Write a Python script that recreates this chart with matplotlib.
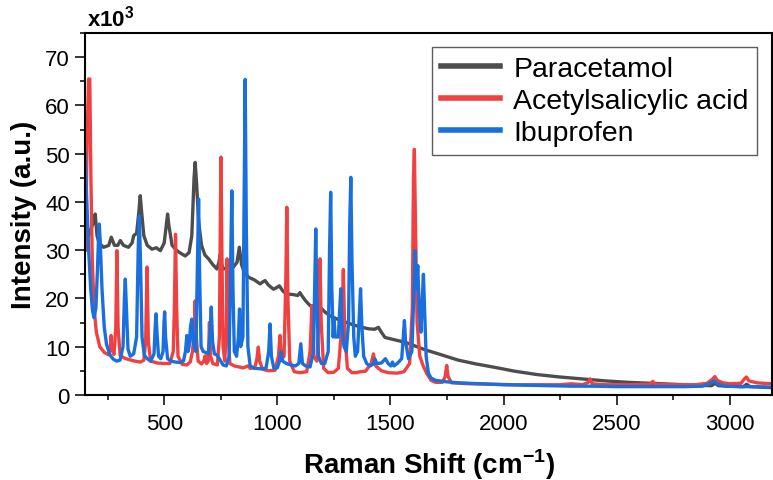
import matplotlib
matplotlib.use("Agg")
import matplotlib.pyplot as plt
from matplotlib.ticker import MultipleLocator

plt.rcParams['font.family'] = ['Liberation Sans', 'DejaVu Sans']
plt.rcParams['mathtext.fontset'] = 'custom'
plt.rcParams['mathtext.rm'] = 'Liberation Sans'
plt.rcParams['mathtext.bf'] = 'Liberation Sans:bold'

# Raman spectra, intensity in thousands of counts
para_x = [150, 165, 185, 195, 203, 212, 232, 255, 266, 280, 295, 306, 320, 342, 358, 365, 378, 388,
          394, 400, 410, 425, 446, 465, 483, 500, 510, 515, 521, 535, 556, 575, 593, 610, 622, 632,
          637, 643, 652, 665, 680, 696, 715, 733, 742, 748, 754, 762, 780, 806, 822, 832, 842, 855,
          873, 900, 924, 935, 946, 960, 983, 995, 1009, 1025, 1042, 1070, 1090, 1100, 1108, 1125,
          1145, 1170, 1189, 1210, 1233, 1260, 1285, 1307, 1330, 1351, 1375, 1403, 1430, 1447, 1460,
          1476, 1520, 1565, 1600, 1650, 1712, 1800, 1880, 1962, 2050, 2150, 2250, 2350, 2450, 2550,
          2650, 2750, 2850, 2920, 2935, 2950, 3000, 3060, 3075, 3090, 3185]
para_y = [31, 33, 35.5, 37.5, 33, 31.5, 30.6, 31, 32.7, 31, 31, 32, 31, 30.6, 31.5, 33, 33.5, 38,
          41.3, 38, 33, 31, 30.2, 30.5, 29.9, 31.5, 35.5, 37.5, 35, 31, 29.9, 29.3, 28.8, 29.5, 33, 45,
          48.2, 44, 36, 31, 29, 28.2, 27, 26.1, 27.5, 29.2, 27, 26.1, 26.3, 26.5, 27.5, 30.6, 27, 25.3,
          24.4, 23.8, 23.0, 23.4, 23.7, 22.8, 21.9, 22.2, 22.6, 21.5, 20.9, 20.8, 20.6, 21.2, 20.6, 19.5,
          18.5, 18.4, 18.2, 17.2, 16.4, 15.8, 15.4, 15.0, 14.6, 14.3, 14.0, 13.7, 13.6, 14.0, 13.0,
          11.9, 11.4, 10.9, 10.3, 9.4, 8.5, 7.2, 6.4, 5.7, 4.9, 4.2, 3.7, 3.3, 2.9, 2.6,
          2.4, 2.2, 2.0, 1.9, 2.4, 1.9, 1.8, 1.7, 2.2, 1.7, 1.5]

asa_x = [152, 160, 166, 171, 176, 182, 190, 200, 215, 235, 255, 262, 265, 268, 278, 286, 291, 296,
         305, 325, 345, 370, 395, 410, 418, 424, 430, 440, 470, 500, 525, 540, 545, 550, 555, 561,
         580, 600, 615, 625, 632, 637, 642, 650, 665, 675, 681, 687, 695, 700, 705, 715, 735, 744,
         748, 751, 755, 760, 768, 775, 778, 782, 790, 810, 830, 850, 870, 880, 900, 910, 916, 922,
         935, 960, 990, 1005, 1012, 1018, 1030, 1038, 1042, 1047, 1055, 1075, 1100, 1130, 1145,
         1153, 1160, 1175, 1185, 1189, 1194, 1205, 1225, 1250, 1270, 1285, 1292, 1298, 1310, 1330,
         1350, 1366, 1390, 1415, 1425, 1435, 1460, 1490, 1530, 1560, 1585, 1597, 1602, 1606, 1611,
         1618, 1630, 1645, 1660, 1680, 1700, 1730, 1742, 1749, 1755, 1770, 1850, 1950, 2050, 2150,
         2250, 2300, 2350, 2375, 2383, 2392, 2450, 2550, 2650, 2660, 2670, 2750, 2850, 2900, 2925,
         2934, 2945, 2970, 3000, 3050, 3065, 3074, 3085, 3120, 3150, 3185]
asa_y = [30, 55, 65.5, 65.5, 45, 28, 18, 13, 10, 8.8, 8.3, 10, 12.3, 9.5, 8.4, 14, 29.9, 14,
         8.2, 7.6, 7.3, 7.0, 6.8, 7.2, 11, 26.5, 11, 7.0, 6.6, 6.5, 6.5, 9, 18, 33.3, 18, 8,
         6.3, 6.2, 6.8, 9, 13, 19.5, 12, 7, 6.4, 7, 8.1, 6.5, 7, 15, 8, 6.5, 6.2, 12,
         35, 49.3, 30, 10, 7, 15, 28.2, 14, 6.5, 6, 5.8, 5.6, 6.0, 5.5, 5.6, 7.5, 9.9, 7,
         5.3, 5.0, 5.1, 8, 12.3, 7.5, 8, 25, 38.9, 20, 7, 4.8, 4.6, 4.8, 9,
         18.5, 8, 7, 17, 28.2, 15, 5.5, 4.6, 4.7, 5.5, 14, 26, 13, 5.5, 4.6,
         4.6, 4.8, 4.9, 6.5, 8.5, 6.0, 5.0, 4.6, 4.5, 4.8, 6.5, 18, 45, 50.9, 35,
         15, 8, 6, 4.5, 3, 2.6, 2.6, 3.8, 6.1, 3.8, 2.5, 2.3, 2.2, 2.1, 2.1,
         2.1, 2.3, 2.1, 2.6, 3.3, 2.3, 2.1, 2.1, 2.2, 2.8, 2.2, 2.1, 2.1, 2.4, 3.3,
         3.8, 3.0, 2.5, 2.3, 2.4, 3.3, 3.7, 2.9, 2.5, 2.4, 2.3]

ibu_x = [150, 158, 166, 175, 183, 190, 198, 205, 210, 213, 217, 225, 235, 245, 260, 275, 290, 305,
         318, 324, 328, 333, 340, 350, 365, 378, 385, 390, 395, 402, 412, 425, 440, 455, 460, 464,
         468, 475, 485, 495, 499, 502, 506, 515, 530, 550, 570, 585, 594, 600, 605, 610, 616, 622,
         628, 640, 646, 652, 657, 663, 672, 683, 695, 702, 708, 714, 722, 735, 750, 760, 775, 787,
         793, 799, 804, 810, 820, 828, 833, 838, 848, 853, 858, 863, 870, 880, 900, 930, 950, 962,
         968, 974, 985, 1000, 1010, 1017, 1024, 1040, 1060, 1080, 1095, 1104, 1111, 1125, 1145,
         1160, 1166, 1170, 1175, 1182, 1195, 1210, 1225, 1231, 1236, 1241, 1247, 1251, 1256, 1270,
         1276, 1281, 1286, 1295, 1305, 1315, 1320, 1325, 1330, 1338, 1345, 1355, 1362, 1368, 1374,
         1382, 1395, 1410, 1425, 1432, 1440, 1460, 1478, 1490, 1502, 1509, 1516, 1530, 1550, 1557,
         1562, 1567, 1580, 1595, 1603, 1609, 1615, 1621, 1628, 1635, 1641, 1646, 1651, 1658, 1668,
         1680, 1700, 1750, 1800, 1900, 2000, 2100, 2200, 2300, 2400, 2500, 2600, 2700, 2800, 2880,
         2910, 2930, 2950, 2980, 3050, 3120, 3185]
ibu_y = [50, 40, 30, 22, 17.5, 16, 18, 26, 33, 35.4, 32, 22, 14, 10.5, 8.3, 7.4, 7.0, 7.2,
         10, 20, 24, 18, 9.5, 8, 8.5, 12, 30, 37.1, 28, 12, 8.2, 7.5, 7, 8.5, 14, 16.8,
         13, 8, 7.5, 9, 15, 17.2, 12, 7.5, 7, 6.8, 6.7, 7, 9, 12.3, 9, 10, 14, 15.7,
         11, 9, 25, 40.6, 24, 10, 9, 8.8, 8.5, 12, 18.2, 11, 8.5, 8.2, 7, 6.2, 6.0, 8,
         25, 42.3, 22, 9, 8, 12, 17.8, 10, 12, 40, 65.4, 35, 10, 6, 5.5, 5.4, 5.5, 9,
         14.7, 8, 5.5, 5.6, 7, 8.9, 7, 6.5, 6.2, 6.0, 6.5, 10.6, 6.5, 6.0, 5.8,
         9, 25, 34.4, 20, 8, 6.5, 6.5, 9, 30, 42, 22, 12, 15.7, 12, 12,
         18, 22, 14, 10, 9, 15, 35, 45.1, 28, 12, 8, 9, 16, 22, 14,
         8, 6.5, 6, 6.4, 7.4, 6.5, 6.6, 7.5, 6.5, 6, 6.8, 6, 6.5, 7.5, 12,
         15.4, 11, 7.5, 9, 20, 29.9, 22, 26.8, 17, 13, 20, 25, 18, 8, 4.5,
         3.5, 3.0, 2.7, 2.5, 2.3, 2.1, 2.0, 1.9, 1.8, 1.8, 1.7, 1.7, 1.7, 1.7, 1.8,
         2.3, 2.9, 2.2, 1.8, 1.7, 1.7, 1.6]

fig = plt.figure(figsize=(7.73, 4.81), dpi=100)
ax = fig.add_axes([0.110, 0.177, 0.889, 0.752])

ax.plot(para_x, para_y, color='#4d4d4d', lw=2.4, label='Paracetamol')
ax.plot(asa_x, asa_y, color='#f04040', lw=2.4, label='Acetylsalicylic acid')
ax.plot(ibu_x, ibu_y, color='#1a6fdf', lw=2.4, label='Ibuprofen')

ax.set_xlim(150, 3188)
ax.set_ylim(0, 75)
ax.xaxis.set_major_locator(MultipleLocator(500))
ax.xaxis.set_minor_locator(MultipleLocator(250))
ax.yaxis.set_major_locator(MultipleLocator(10))
ax.yaxis.set_minor_locator(MultipleLocator(5))
ax.tick_params(which='major', direction='out', length=7, width=1.1, labelsize=16, pad=4)
ax.tick_params(axis='x', which='major', pad=6)
ax.tick_params(which='minor', direction='out', length=3.5, width=1.1)
for s in ax.spines.values():
    s.set_linewidth(1.5)

ax.set_xlabel(r'Raman Shift (cm$^{\mathbf{-1}}$)', fontsize=20, fontweight='bold', labelpad=9)
ax.set_ylabel('Intensity (a.u.)', fontsize=20, fontweight='bold', labelpad=6)
ax.text(0.003, 1.008, r'$\mathbf{x10^3}$', transform=ax.transAxes, fontsize=16,
        ha='left', va='bottom')

leg = ax.legend(loc='upper right', bbox_to_anchor=(0.978, 0.961), borderaxespad=0,
                fontsize=20.5, frameon=True, fancybox=False, edgecolor='#333333',
                handlelength=2.1, handletextpad=0.45, labelspacing=0.22, borderpad=0.3)
leg.get_frame().set_linewidth(1.0)
for h in leg.get_lines():
    h.set_linewidth(4)

fig.savefig('out.png', dpi=100)
